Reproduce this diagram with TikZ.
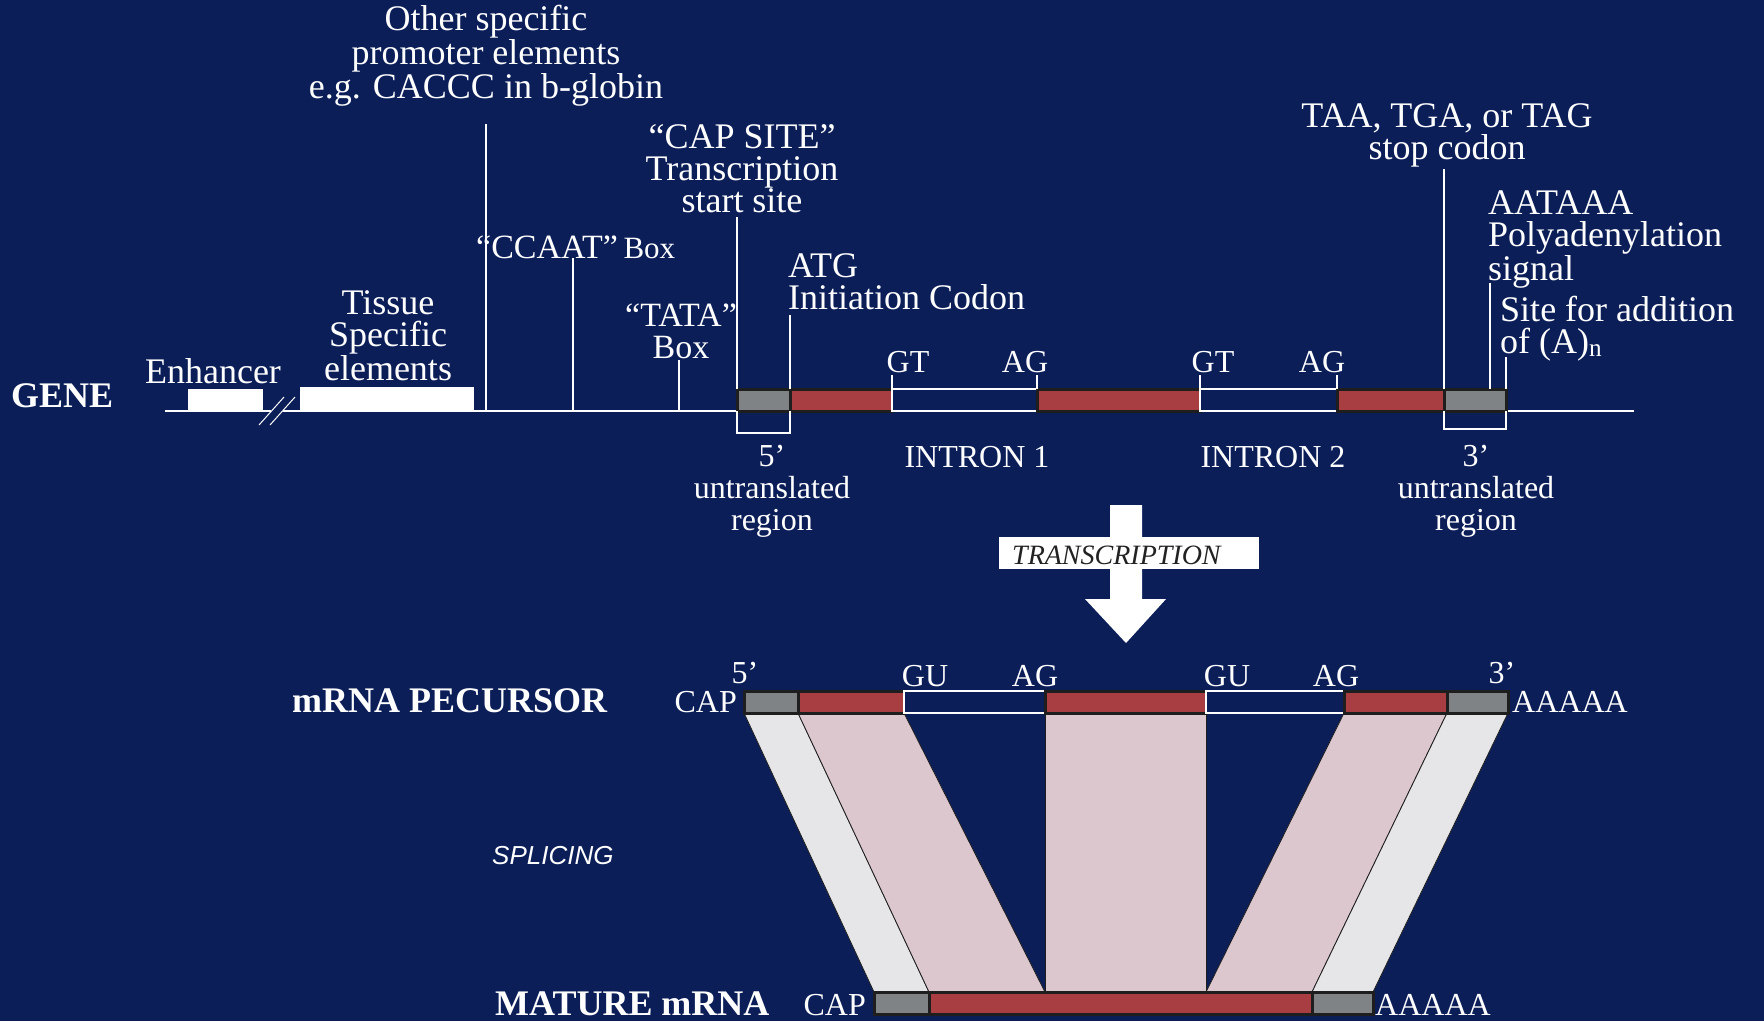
\documentclass[tikz,border=0pt]{standalone}
\usepackage{fontspec}
\setmainfont{Liberation Serif}
\newfontfamily\splicefont{Liberation Sans}
\usetikzlibrary{positioning}
\definecolor{GeneNavy}{HTML}{0B1E58}
\definecolor{ExonRed}{HTML}{A93E42}
\definecolor{UtrGray}{HTML}{7F8386}
\definecolor{EdgeDark}{HTML}{1E1E1E}
\definecolor{BandPink}{HTML}{DCC7CF}
\definecolor{BandGray}{HTML}{E6E6E8}
\definecolor{InkDark}{HTML}{222222}
\pgfdeclarelayer{under}
\pgfsetlayers{under,main}

\begin{document}
\begin{tikzpicture}[x=1pt,y=-1pt,
 seg/.style={inner sep=0pt,outer sep=0pt,minimum height=22pt,line width=3pt,draw=EdgeDark},
 exon/.style={seg,fill=ExonRed},
 utr/.style={seg,fill=UtrGray},
 intron/.style={seg,draw=white,line width=1.2pt,fill=GeneNavy},
 block/.style={fill=white,inner sep=0pt,outer sep=0pt,minimum height=22pt,anchor=south west},
 big/.style={text=white,inner sep=0pt,font=\fontsize{36}{32}\selectfont,align=center},
 small/.style={text=white,inner sep=0pt,font=\fontsize{32}{32}\selectfont,align=center},
 head/.style={text=white,inner sep=0pt,font=\fontsize{36}{36}\selectfont\bfseries},
 tick/.style={white,line width=1.3pt},
 band/.style={draw=EdgeDark,line width=0.8pt}]
\useasboundingbox (0,0) rectangle (1764,1021);
\begin{pgfonlayer}{under}
\fill[GeneNavy] (0,0) rectangle (1764,1021);
\end{pgfonlayer}

\coordinate (gl) at (165,411);
\coordinate (gr) at (1634,411);
\coordinate (brkl) at (271,411);
\coordinate (brkr) at (283,411);
\draw[tick] (gl) -- (brkl) (brkr) -- (gr);
\draw[tick,line width=1pt] (259,425) -- (284,397) (270,425) -- (295,397);
\node[block,minimum width=75pt] (enh) at (188,411) {};
\node[block,minimum width=174pt,minimum height=24pt] (tiss) at (300,411) {};

\node[utr,minimum width=53pt,anchor=south west] (g5utr) at (737,411) {};
\node[exon,minimum width=102pt,right=0pt of g5utr] (gex1) {};
\node[intron,minimum width=145pt,right=0pt of gex1] (gin1) {};
\node[exon,minimum width=163pt,right=0pt of gin1] (gex2) {};
\node[intron,minimum width=137pt,right=0pt of gex2] (gin2) {};
\node[exon,minimum width=107pt,right=0pt of gin2] (gex3) {};
\node[utr,minimum width=62pt,right=0pt of gex3] (g3utr) {};

\node[head,anchor=base west] (gene) at (11,407) {GENE};
\node[big,anchor=base] (enhtxt) at (213,383) {Enhancer};
\node[big,anchor=base] (tisstxt) at (388,380) {Tissue\\Specific\\elements};
\node[big,anchor=base] (other) at (486,98) {Other specific\\promoter elements\\e.g. CACCC in b-globin};
\node[big,anchor=base west] (ccaat) at (476,258) {\fontsize{34}{32}\selectfont“CCAAT”\,{\fontsize{31}{32}\selectfont Box}};
\node[big,anchor=base,font=\fontsize{34}{32}\selectfont] (tata) at (681,358) {“TATA”\\Box};
\node[big,anchor=base] (capsite) at (742,212) {“CAP SITE”\\Transcription\\start site};
\node[big,anchor=base west,align=left] (atg) at (788,309) {ATG\\Initiation Codon};
\node[big,anchor=base] (stop) at (1447,159) {TAA, TGA, or TAG\\stop codon};
\node[big,anchor=base west,align=left] (polya) at (1488,280) {AATAAA\\Polyadenylation\\signal};
\node[big,anchor=base west,align=left] (addsite) at (1500,353) {Site for addition\\of (A)\textsubscript{n}};

\coordinate (othertop) at (486,124);
\coordinate (ccaattop) at (573,258);
\coordinate (tatatop) at (679,360);
\coordinate (captop) at (737,217);
\coordinate (atgtop) at (790,315);
\coordinate (stoptop) at (1444,169);
\coordinate (polyatop) at (1490,283);
\coordinate (addtop) at (1506,357);
\draw[tick] (othertop) -- (othertop |- gl);
\draw[tick] (ccaattop) -- (ccaattop |- gl);
\draw[tick] (tatatop) -- (tatatop |- gl);
\draw[tick] (captop) -- (g5utr.north west);
\draw[tick] (atgtop) -- (gex1.north west);
\draw[tick] (stoptop) -- (g3utr.north west);
\draw[tick] (polyatop) -- (polyatop |- g3utr.north);
\draw[tick] (addtop) -- (g3utr.north east);
\draw[tick] (gin1.north west) -- ++(0,-14);
\draw[tick] (gin1.north east) -- ++(0,-14);
\draw[tick] (gin2.north west) -- ++(0,-14);
\draw[tick] (gin2.north east) -- ++(0,-14);
\draw[tick] (g5utr.south west) -- ++(0,22) -| (g5utr.south east);
\draw[tick] (g3utr.south west) -- ++(0,18) -| (g3utr.south east);

\node[small,anchor=base] (gt1) at (908,372) {GT};
\node[small,anchor=base] (ag1) at (1025,372) {AG};
\node[small,anchor=base] (gt2) at (1213,372) {GT};
\node[small,anchor=base] (ag2) at (1322,372) {AG};
\node[small,anchor=base] (intron1) at (977,467) {INTRON 1};
\node[small,anchor=base] (intron2) at (1273,467) {INTRON 2};
\node[small,anchor=base] (utr5txt) at (772,530) {5’\\untranslated\\region};
\node[small,anchor=base] (utr3txt) at (1476,530) {3’\\untranslated\\region};

\fill[white] (1110,505) -- (1142,505) -- (1142,599) -- (1166,599) -- (1126,643)
  -- (1085,599) -- (1110,599) -- cycle;
\node[fill=white,inner sep=0pt,minimum width=260pt,minimum height=32pt,anchor=north west] (tbox) at (999,537) {};
\node[anchor=base west,inner sep=0pt,text=InkDark,font=\fontsize{28}{28}\selectfont\itshape] (ttxt) at (1012,564) {TRANSCRIPTION};

\node[utr,minimum width=54pt,anchor=south west] (p5utr) at (744,713) {};
\node[exon,minimum width=106pt,right=0pt of p5utr] (pex1) {};
\node[intron,minimum width=141pt,right=0pt of pex1] (pin1) {};
\node[exon,minimum width=161pt,right=0pt of pin1] (pex2) {};
\node[intron,minimum width=138pt,right=0pt of pex2] (pin2) {};
\node[exon,minimum width=103pt,right=0pt of pin2] (pex3) {};
\node[utr,minimum width=61pt,right=0pt of pex3] (p3utr) {};

\node[head,anchor=base west] (pretxt) at (292,712) {mRNA PECURSOR};
\node[small,anchor=base east] (pcap) at (737,712) {CAP};
\node[small,anchor=base west] (ptail) at (1512,712) {AAAAA};
\node[small,anchor=base] (p5) at (745,683) {5’};
\node[small,anchor=base] (p3) at (1502,683) {3’};
\node[small,anchor=base] (gu1) at (925,686) {GU};
\node[small,anchor=base] (pag1) at (1035,686) {AG};
\node[small,anchor=base] (gu2) at (1227,686) {GU};
\node[small,anchor=base] (pag2) at (1336,686) {AG};

\node[utr,minimum width=55pt,anchor=south west] (m5utr) at (874,1014) {};
\node[exon,minimum width=383pt,right=0pt of m5utr] (mex) {};
\node[utr,minimum width=61pt,right=0pt of mex] (m3utr) {};

\begin{pgfonlayer}{under}
\filldraw[band,fill=BandGray] (p5utr.south west) -- (p5utr.south east) -- (m5utr.north east) -- (m5utr.north west) -- cycle;
\filldraw[band,fill=BandPink] (pex1.south west) -- (pex1.south east) -- (pex2.south west |- mex.north) -- (mex.north west) -- cycle;
\filldraw[band,fill=BandPink] (pex2.south west) -- (pex2.south east) -- (pex2.south east |- mex.north) -- (pex2.south west |- mex.north) -- cycle;
\filldraw[band,fill=BandPink] (pex3.south west) -- (pex3.south east) -- (mex.north east) -- (pex2.south east |- mex.north) -- cycle;
\filldraw[band,fill=BandGray] (p3utr.south west) -- (p3utr.south east) -- (m3utr.north east) -- (m3utr.north west) -- cycle;
\end{pgfonlayer}

\node[anchor=base west,inner sep=0pt,text=white,font=\splicefont\itshape\fontsize{26}{26}\selectfont] (splice) at (492,864) {SPLICING};
\node[head,anchor=base west] (maturetxt) at (495,1015) {MATURE mRNA};
\node[small,anchor=base east] (mcap) at (866,1015) {CAP};
\node[small,anchor=base west] (mtail) at (1375,1015) {AAAAA};
\end{tikzpicture}
\end{document}
